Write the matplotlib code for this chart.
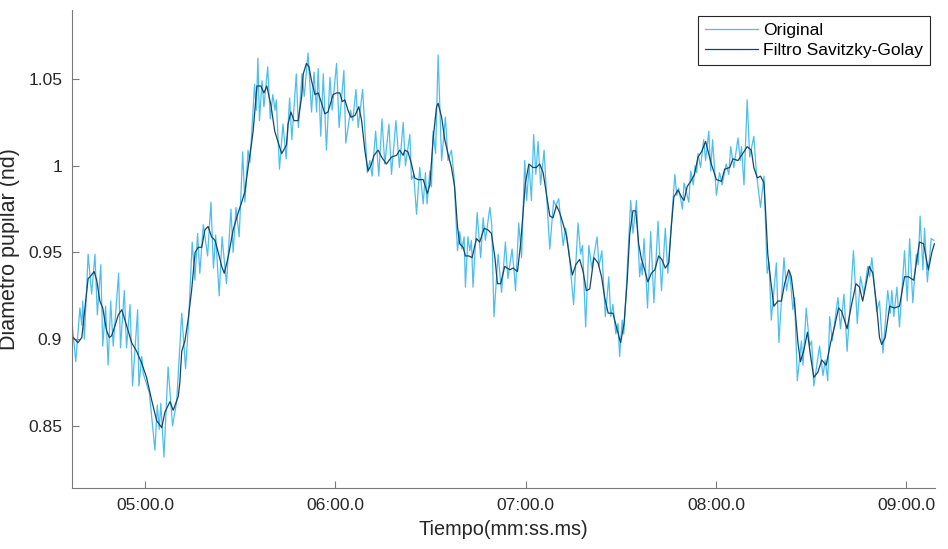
import numpy as np
import matplotlib
matplotlib.use('Agg')
import matplotlib.pyplot as plt
from matplotlib.ticker import FuncFormatter, FixedLocator

# tiempo en segundos, diametro pupilar normalizado
t_orig = [277.0, 278.2, 279.5, 280.1, 280.4, 280.9, 282.1, 283.2, 284.25, 285.0,
          286.1, 286.7, 287.6, 288.4, 289.2, 290.0, 291.7, 292.3, 293.5, 294.2,
          295.3, 296.1, 297.7, 298.1, 299.0, 299.5, 301.4, 303.15, 303.9, 304.5,
          305.0, 306.0, 307.3, 308.7, 310.0, 311.6, 312.8, 313.6, 314.9, 315.75,
          316.6, 317.3, 318.4, 319.75, 320.8, 321.6, 322.3, 323.4, 324.3, 325.7,
          327.1, 327.8, 328.7, 329.7, 330.8, 331.5, 332.5, 333.1, 334.55, 335.1,
          335.6, 336.1, 336.9, 337.5, 338.7, 339.5, 340.3, 341.0, 341.4, 342.4,
          343.5, 344.5, 345.6, 346.3, 347.7, 348.35, 349.5, 350.2, 351.4, 352.5,
          353.3, 354.1, 354.6, 355.4, 356.2, 357.2, 358.3, 359.0, 360.4, 361.2,
          362.7, 363.3, 364.8, 365.5, 366.5, 367.2, 368.6, 370.1, 370.9, 371.6,
          372.7, 373.7, 374.7, 375.6, 376.9, 377.7, 379.1, 380.2, 381.4, 382.1,
          383.5, 384.0, 384.7, 385.6, 386.6, 387.7, 388.4, 388.9, 389.8, 390.3,
          390.8, 391.6, 392.4, 393.5, 394.7, 395.5, 396.6, 397.4, 398.5, 399.2,
          399.9, 400.6, 401.0, 401.8, 402.4, 402.9, 403.4, 404.7, 405.8, 406.6,
          407.3, 408.7, 409.3, 410.0, 411.3, 412.4, 413.6, 414.4, 415.7, 416.3,
          416.8, 417.8, 418.7, 419.7, 420.3, 421.1, 421.8, 422.5, 423.2, 423.9,
          424.7, 425.8, 426.6, 427.6, 428.8, 429.5, 430.4, 431.8, 432.6, 433.6,
          435.1, 436.5, 437.3, 437.9, 438.9, 439.9, 440.8, 442.5, 443.1, 444.0,
          445.1, 446.2, 446.8, 447.5, 448.4, 449.1, 449.6, 450.4, 450.9, 451.5,
          453.1, 453.8, 454.9, 455.9, 456.4, 456.7, 457.3, 458.4, 459.4, 460.4,
          461.7, 462.8, 464.0, 464.8, 467.0, 467.6, 468.2, 469.4, 469.9, 471.4,
          472.0, 472.8, 473.4, 473.9, 474.3, 475.1, 476.1, 476.7, 477.7, 478.3,
          478.9, 480.1, 481.1, 481.9, 483.2, 484.0, 484.6, 485.6, 486.9, 487.6,
          488.0, 488.8, 489.8, 490.6, 491.9, 492.7, 494.0, 495.1, 496.1, 496.7,
          497.4, 499.0, 499.8, 501.4, 502.2, 503.2, 504.2, 504.75, 505.6, 506.9,
          507.4, 508.4, 509.5, 510.1, 510.8, 512.6, 513.7, 514.4, 515.2, 515.8,
          516.6, 518.4, 519.2, 520.3, 521.3, 523.3, 524.5, 525.5, 526.6, 527.8,
          528.4, 529.1, 530.6, 531.5, 532.6, 534.1, 534.9, 535.4, 536.0, 537.0,
          537.8, 539.4, 540.25, 541.0, 542.0, 543.1, 543.7, 544.3, 545.2, 545.7,
          546.6, 547.8, 548.6]
d_orig = [0.910, 0.887, 0.918, 0.908, 0.922, 0.900, 0.949, 0.926, 0.949, 0.914,
          0.943, 0.896, 0.919, 0.885, 0.922, 0.896, 0.938, 0.895, 0.928, 0.895,
          0.920, 0.873, 0.917, 0.873, 0.890, 0.880, 0.869, 0.836, 0.862, 0.848,
          0.863, 0.832, 0.884, 0.850, 0.864, 0.915, 0.883, 0.905, 0.956, 0.934,
          0.961, 0.938, 0.966, 0.948, 0.979, 0.941, 0.960, 0.925, 0.959, 0.932,
          0.975, 0.950, 0.976, 0.959, 1.008, 0.979, 1.009, 1.002, 1.047, 1.032,
          1.062, 1.026, 1.049, 1.034, 1.057, 1.027, 1.041, 1.032, 1.038, 0.998,
          1.024, 1.004, 1.039, 1.015, 1.053, 1.022, 1.053, 1.040, 1.065, 1.031,
          1.054, 1.031, 1.056, 1.017, 1.053, 1.009, 1.051, 1.032, 1.059, 1.022,
          1.055, 1.013, 1.032, 1.026, 1.044, 1.022, 1.044, 0.996, 1.003, 0.994,
          1.020, 0.994, 1.027, 1.001, 1.024, 0.995, 1.026, 0.999, 1.025, 1.000,
          1.018, 0.992, 0.995, 0.972, 0.999, 0.978, 0.996, 0.978, 0.997, 0.988,
          1.020, 1.007, 1.064, 1.003, 1.028, 1.003, 1.009, 0.994, 0.951, 0.962,
          0.952, 0.959, 0.930, 0.959, 0.951, 0.957, 0.930, 0.973, 0.947, 0.970,
          0.957, 0.976, 0.966, 0.913, 0.949, 0.927, 0.956, 0.935, 0.952, 0.940,
          0.928, 0.967, 0.947, 1.003, 0.980, 1.000, 0.980, 1.018, 0.995, 1.014,
          0.989, 1.009, 0.982, 0.952, 0.980, 0.977, 0.981, 0.954, 0.964, 0.951,
          0.920, 0.967, 0.949, 0.954, 0.907, 0.954, 0.941, 0.959, 0.942, 0.951,
          0.913, 0.936, 0.913, 0.920, 0.903, 0.909, 0.890, 0.911, 0.903, 0.922,
          0.980, 0.961, 0.980, 0.936, 0.944, 0.937, 0.958, 0.918, 0.962, 0.921,
          0.968, 0.928, 0.964, 0.938, 0.995, 0.983, 0.987, 0.975, 0.990, 0.979,
          0.997, 0.989, 1.000, 0.996, 1.007, 0.999, 1.015, 1.003, 1.020, 0.997,
          1.015, 0.983, 0.996, 0.989, 1.001, 0.995, 1.011, 0.999, 1.016, 1.003,
          1.011, 0.989, 1.038, 1.005, 1.017, 0.996, 0.976, 0.994, 0.938, 0.944,
          0.911, 0.944, 0.898, 0.947, 0.928, 0.939, 0.917, 0.924, 0.876, 0.899,
          0.885, 0.918, 0.896, 0.899, 0.873, 0.896, 0.879, 0.888, 0.876, 0.913,
          0.899, 0.924, 0.906, 0.926, 0.893, 0.951, 0.909, 0.936, 0.926, 0.942,
          0.936, 0.947, 0.916, 0.922, 0.892, 0.928, 0.915, 0.928, 0.913, 0.930,
          0.907, 0.951, 0.922, 0.958, 0.921, 0.949, 0.943, 0.971, 0.940, 0.964,
          0.933, 0.958, 0.957]

t_sg = [277.0, 277.4, 278.9, 280.1, 282.1, 282.7, 284.0, 284.8, 285.8, 286.7,
        287.9, 288.8, 289.5, 290.6, 291.6, 292.7, 293.7, 294.7, 295.8, 297.4,
        299.0, 300.5, 302.1, 303.7, 305.3, 306.3, 307.9, 308.9, 310.5, 311.0,
        311.6, 312.6, 313.6, 314.7, 315.8, 316.8, 317.9, 318.9, 319.9, 321.0,
        322.1, 323.1, 324.2, 325.0, 326.2, 327.8, 329.4, 330.5, 331.5, 332.5,
        333.6, 334.1, 335.3, 336.5, 337.5, 338.4, 339.7, 340.9, 343.1, 344.6,
        345.1, 346.0, 347.0, 348.3, 349.4, 349.9, 350.9, 351.7, 352.5, 353.6,
        354.6, 355.7, 356.7, 357.7, 359.3, 360.4, 361.4, 362.2, 363.0, 364.0,
        364.9, 366.2, 367.4, 368.3, 369.3, 370.3, 371.2, 372.2, 373.5, 374.6,
        376.1, 377.7, 379.3, 380.3, 381.4, 381.9, 382.9, 384.0, 385.0, 386.1,
        387.7, 388.4, 389.0, 389.8, 390.8, 391.9, 392.4, 393.5, 394.5, 395.5,
        396.6, 397.6, 398.5, 399.2, 400.3, 401.0, 402.1, 403.1, 404.5, 405.5,
        406.9, 408.1, 409.2, 410.3, 411.1, 412.1, 413.4, 415.0, 416.0, 417.4,
        418.4, 419.2, 419.9, 421.0, 422.3, 423.4, 424.4, 425.5, 426.5, 427.6,
        428.6, 429.7, 430.7, 431.7, 432.8, 433.9, 434.7, 435.8, 437.0, 438.1,
        439.1, 440.2, 441.5, 442.8, 443.9, 444.9, 446.0, 447.5, 448.6, 449.9,
        451.0, 452.0, 452.8, 453.8, 454.7, 455.6, 456.5, 457.5, 458.5, 459.6,
        460.7, 461.9, 462.9, 464.0, 465.1, 465.9, 466.7, 468.0, 469.1, 469.9,
        470.9, 472.0, 473.2, 474.3, 475.4, 476.7, 478.5, 480.1, 481.7, 482.7,
        484.3, 485.3, 486.9, 488.4, 489.8, 491.1, 491.9, 493.0, 494.0, 495.1,
        495.8, 496.3, 497.2, 498.2, 499.5, 500.6, 501.6, 502.9, 503.7, 504.7,
        505.8, 506.6, 507.7, 508.8, 509.8, 510.8, 512.1, 513.3, 514.7, 516.1,
        517.3, 518.6, 519.6, 521.3, 522.6, 524.1, 525.2, 526.2, 527.3, 528.3,
        529.4, 530.5, 531.5, 532.2, 533.3, 534.7, 536.2, 537.8, 539.4, 540.6,
        542.3, 544.1, 545.4, 546.9, 548.0, 548.8]
d_sg = [0.900, 0.901, 0.898, 0.901, 0.935, 0.936, 0.939, 0.934, 0.922, 0.918,
        0.905, 0.901, 0.902, 0.908, 0.914, 0.917, 0.911, 0.905, 0.898, 0.893,
        0.886, 0.878, 0.865, 0.853, 0.849, 0.858, 0.864, 0.859, 0.867, 0.875,
        0.893, 0.899, 0.911, 0.928, 0.950, 0.953, 0.953, 0.963, 0.965, 0.959,
        0.957, 0.950, 0.942, 0.938, 0.947, 0.963, 0.973, 0.979, 0.985, 0.999,
        1.013, 1.020, 1.046, 1.046, 1.042, 1.046, 1.035, 1.020, 1.007, 1.012,
        1.024, 1.031, 1.026, 1.026, 1.040, 1.053, 1.059, 1.057, 1.049, 1.041,
        1.042, 1.036, 1.030, 1.031, 1.041, 1.042, 1.042, 1.037, 1.038, 1.032,
        1.028, 1.029, 1.034, 1.026, 1.009, 0.997, 1.000, 1.006, 1.009, 1.005,
        1.001, 1.005, 1.006, 1.009, 1.006, 1.009, 1.008, 1.001, 0.993, 0.992,
        0.992, 0.988, 0.984, 0.989, 1.015, 1.034, 1.036, 1.028, 1.015, 1.007,
        0.999, 0.988, 0.965, 0.955, 0.953, 0.948, 0.948, 0.947, 0.958, 0.956,
        0.964, 0.963, 0.961, 0.947, 0.932, 0.932, 0.942, 0.940, 0.941, 0.939,
        0.955, 0.974, 0.990, 1.001, 0.999, 0.999, 1.001, 0.996, 0.984, 0.971,
        0.970, 0.977, 0.973, 0.967, 0.960, 0.946, 0.937, 0.943, 0.946, 0.939,
        0.928, 0.929, 0.947, 0.944, 0.936, 0.924, 0.915, 0.915, 0.907, 0.898,
        0.909, 0.934, 0.961, 0.974, 0.974, 0.955, 0.946, 0.940, 0.933, 0.938,
        0.940, 0.948, 0.946, 0.941, 0.944, 0.965, 0.982, 0.986, 0.982, 0.980,
        0.988, 0.991, 0.995, 1.005, 1.008, 1.014, 1.001, 0.992, 0.991, 0.998,
        0.999, 1.004, 1.003, 1.007, 1.011, 1.009, 0.999, 0.993, 0.994, 0.990,
        0.967, 0.949, 0.934, 0.919, 0.922, 0.922, 0.932, 0.940, 0.936, 0.921,
        0.898, 0.887, 0.894, 0.904, 0.890, 0.878, 0.881, 0.888, 0.885, 0.898,
        0.907, 0.918, 0.916, 0.906, 0.919, 0.932, 0.930, 0.922, 0.932, 0.942,
        0.938, 0.921, 0.901, 0.897, 0.901, 0.919, 0.918, 0.919, 0.936, 0.936,
        0.934, 0.956, 0.955, 0.940, 0.950, 0.955]

xticks = [300, 360, 420, 480, 540]
yticks = [0.85, 0.9, 0.95, 1.0, 1.05]

plt.rcParams['font.family'] = ['Liberation Sans', 'DejaVu Sans']

fig = plt.figure(figsize=(9.48, 5.49), dpi=100)
ax = fig.add_axes([0.0759, 0.1111, 0.9104, 0.8707])

ax.plot(t_orig, d_orig, color='#4DBEEE', lw=0.9, label='Original')
ax.plot(t_sg, d_sg, color='#14466a', lw=0.9, label='Filtro Savitzky-Golay',
        solid_joinstyle='round')

ax.set_xlim(277, 549)
ax.set_ylim(0.8142, 1.0898)

def mmss(t, pos):
    return '%02d:%04.1f' % (int(t // 60), t % 60)

ax.xaxis.set_major_locator(FixedLocator(xticks))
ax.xaxis.set_major_formatter(FuncFormatter(mmss))
ax.yaxis.set_major_locator(FixedLocator(yticks))
ax.yaxis.set_major_formatter(FuncFormatter(lambda v, p: '%g' % v))

for s in ['top', 'right']:
    ax.spines[s].set_visible(False)
for s in ['left', 'bottom']:
    ax.spines[s].set_color('#7a7a7a')
    ax.spines[s].set_linewidth(0.8)

ax.tick_params(direction='in', length=5, width=0.8, color='#7a7a7a',
               labelsize=12.6, labelcolor='#262626', pad=7)

ax.set_xlabel('Tiempo(mm:ss.ms)', fontsize=14.3, color='#262626', labelpad=5)
ax.set_ylabel('Diametro pupilar (nd)', fontsize=15.5, color='#262626', labelpad=6)

leg = ax.legend(loc='upper right', bbox_to_anchor=(0.994, 0.988), fontsize=12.6,
                fancybox=False, framealpha=1, edgecolor='#262626',
                handlelength=3.0, handletextpad=0.3, labelspacing=0.3,
                borderpad=0.4, borderaxespad=0)
leg.get_frame().set_linewidth(0.8)

fig.savefig('out.png', dpi=100)
